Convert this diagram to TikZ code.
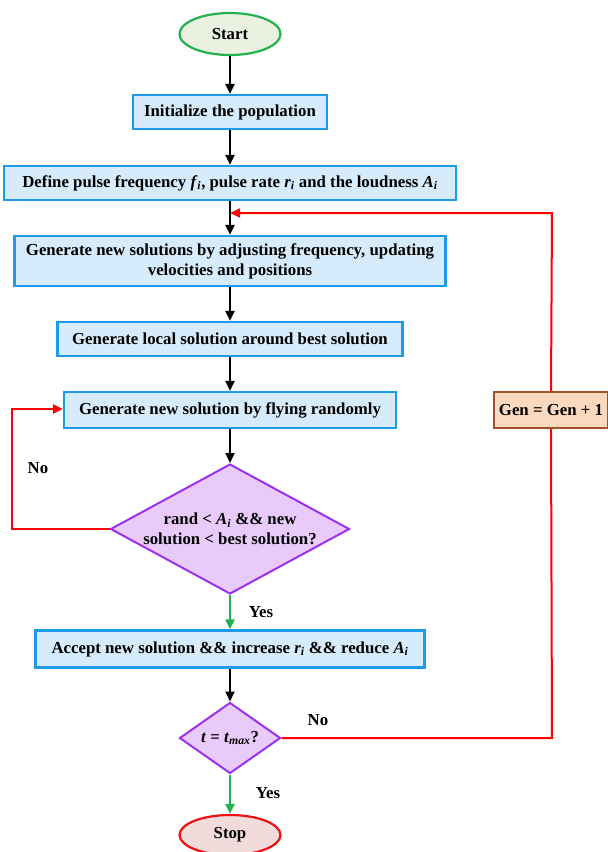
\documentclass[tikz,border=0pt]{standalone}
\usepackage{fontspec}
\setmainfont{Liberation Serif}
\usetikzlibrary{shapes.geometric,arrows.meta}
\newcommand\myvar[2]{\textit{#1}\textsubscript{\textit{#2}}}
\definecolor{boxfill}{HTML}{D6EBFB}
\definecolor{boxline}{HTML}{1E9BE8}
\definecolor{diafill}{HTML}{E8CBFA}
\definecolor{dialine}{HTML}{9B30F0}
\definecolor{startfill}{HTML}{EAF1E0}
\definecolor{startline}{HTML}{22B14C}
\definecolor{stopfill}{HTML}{F2DCDB}
\definecolor{stopline}{HTML}{F01010}
\definecolor{genfill}{HTML}{FAD9BE}
\definecolor{genline}{HTML}{A0522D}
\definecolor{yesgreen}{HTML}{22B14C}
\begin{document}
\begin{tikzpicture}[x=1pt,y=-1pt,
  font=\fontsize{16.8}{20}\selectfont\bfseries,
  procbox/.style={draw=boxline,fill=boxfill,line width=2.2pt,rectangle,inner sep=0pt,align=center},
  decision/.style={draw=dialine,fill=diafill,line width=2pt,diamond,inner sep=0pt,align=center},
  terminal/.style={ellipse,line width=2.2pt,inner sep=0pt},
  arr/.style={-{Triangle[length=10pt,width=9pt]},line width=2pt},
  noarr/.style={arr,draw=red},
  yesarr/.style={arr,draw=yesgreen}]
\useasboundingbox (0,0) rectangle (608,852);
\node[terminal,draw=startline,fill=startfill,minimum width=101pt,minimum height=42pt] (start) at (230,34) {Start};
\node[procbox,minimum width=194pt,minimum height=34pt] (init) at (230,112) {Initialize the population};
\node[procbox,minimum width=452pt,minimum height=34pt] (define) at (230,183) {Define pulse frequency \myvar{f}{i}, pulse rate \myvar{r}{i} and the loudness \myvar{A}{i}};
\node[procbox,minimum width=431pt,minimum height=50pt] (gen) at (230,261) {Generate new solutions by adjusting frequency, updating\\velocities and positions};
\node[procbox,minimum width=345pt,minimum height=34pt] (local) at (230,339) {Generate local solution around best solution};
\node[procbox,minimum width=332pt,minimum height=36pt] (fly) at (230,410) {Generate new solution by flying randomly};
\node[decision,minimum width=239pt,minimum height=130pt,aspect=1.84] (d1) at (230,529) {};
\node[align=center] (d1t) at (230,529) {rand < \myvar{A}{i} \&\& new\\solution < best solution?};
\node[procbox,minimum width=389pt,minimum height=37pt] (accept) at (230,649) {Accept new solution \&\& increase \myvar{r}{i} \&\& reduce \myvar{A}{i}};
\node[decision,minimum width=101pt,minimum height=71pt,aspect=1.42] (d2) at (230,738) {};
\node (d2t) at (230,738) {\textit{t} = \myvar{t}{max}?};
\node[terminal,draw=stopline,fill=stopfill,minimum width=101pt,minimum height=40pt] (stop) at (230,835) {Stop};
\node[draw=genline,fill=genfill,line width=2pt,minimum width=114pt,minimum height=36pt,inner sep=0pt] (incr) at (551,410) {Gen = Gen + 1};
\coordinate (r1) at (552,738);
\coordinate (r2) at (552,213);
\coordinate (rin) at (230,213);
\coordinate (l1) at (12,529);
\coordinate (l2) at (12,409);
\draw[arr] (start) -- (init);
\draw[arr] (init) -- (define);
\draw[arr] (define) -- (gen);
\draw[arr] (gen) -- (local);
\draw[arr] (local) -- (fly);
\draw[arr] (fly) -- (d1);
\draw[yesarr] (d1.south) -- (accept);
\draw[arr] (accept) -- (d2);
\draw[yesarr] (d2.south) -- (stop);
\draw[noarr] (d1.west) -- (l1) -- (l2) -- (fly.west |- l2);
\draw[red,line width=2pt] (d2.east) -- (r1) -- (incr.south);
\draw[noarr] (incr.north) -- (r2) -- (rin);
\node (no1) at (38,468) {No};
\node (no2) at (318,720) {No};
\node (yes1) at (261,612) {Yes};
\node (yes2) at (268,793) {Yes};
\end{tikzpicture}
\end{document}
